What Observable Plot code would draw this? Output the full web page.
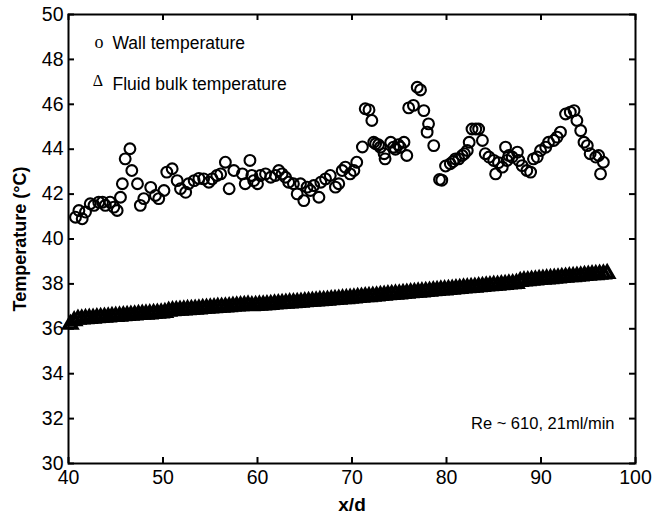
<!DOCTYPE html>
<html><head><meta charset="utf-8">
<script src="https://cdn.jsdelivr.net/npm/d3@7"></script>
<script src="https://cdn.jsdelivr.net/npm/@observablehq/plot@0.6"></script>
<style>body{margin:0;background:#fff}</style>
</head><body><div id="chart"></div>
<script>
const xTicks = [40, 50, 60, 70, 80, 90, 100];
const yTicks = [30, 32, 34, 36, 38, 40, 42, 44, 46, 48, 50];

const wallX = [40.74,41.1,41.45,41.8,42.3,42.7,43.2,43.6,43.9,44.4,44.8,45.15,45.5,45.7,46.0,46.5,46.7,47.3,47.6,47.97,48.7,49.2,49.55,50.1,50.4,50.97,51.5,51.85,52.4,52.7,53.3,53.8,54.3,54.85,55.2,55.7,56.1,56.6,57.0,57.5,58.4,58.7,59.2,59.4,59.6,60.0,60.3,60.85,61.4,61.9,62.25,62.6,62.96,63.3,63.8,64.2,64.55,64.9,65.25,65.6,65.95,66.5,66.7,67.2,67.7,68.25,68.6,68.96,69.3,69.8,70.2,70.5,71.1,71.4,71.8,72.1,72.3,72.5,72.8,73.0,73.4,73.5,74.1,74.4,74.6,74.9,75.1,75.5,75.8,76.0,76.5,76.9,77.25,77.6,77.95,78.1,78.65,79.26,79.5,79.9,80.4,80.7,80.95,81.3,81.66,81.9,82.2,82.4,82.7,83.1,83.4,83.8,84.1,84.5,85.0,85.2,85.5,85.9,86.25,86.4,86.6,86.95,87.5,87.65,88.0,88.5,88.9,89.2,89.6,89.95,90.5,90.8,91.35,91.7,92.06,92.6,93.1,93.5,93.8,94.2,94.55,94.9,95.2,95.8,96.1,96.3,96.6];
const wallT = [40.97,41.27,40.9,41.2,41.57,41.5,41.64,41.64,41.5,41.64,41.42,41.27,41.86,42.46,43.57,44.02,43.05,42.46,41.5,41.8,42.3,41.94,41.8,42.16,42.98,43.13,42.6,42.24,42.08,42.46,42.6,42.7,42.68,42.53,42.68,42.83,42.9,43.42,42.24,43.05,42.9,42.46,43.5,42.83,42.6,42.46,42.83,42.9,42.75,42.83,43.05,42.9,42.75,42.53,42.46,42.01,42.46,41.71,42.31,42.16,42.38,41.86,42.53,42.68,42.83,42.31,42.46,43.05,43.2,42.9,43.05,43.42,44.1,45.8,45.75,45.28,44.31,44.24,44.2,44.09,43.8,43.57,44.31,44.09,44.0,44.2,44.09,44.31,43.72,45.84,45.95,46.76,46.64,45.72,44.76,45.13,44.16,42.65,42.62,43.25,43.35,43.45,43.57,43.57,43.72,43.8,43.94,44.31,44.9,44.9,44.9,44.39,43.8,43.65,43.5,42.9,43.4,43.2,44.09,43.5,43.72,43.65,43.87,43.5,43.27,43.05,42.98,43.57,43.65,43.94,44.09,44.31,44.39,44.54,44.76,45.57,45.65,45.72,45.28,44.83,44.31,44.16,43.8,43.65,43.72,42.9,43.42];

const bulkX = [40.2,40.6,41.0,41.4,41.8,42.2,42.6,43.0,43.4,43.8,44.2,44.6,45.0,45.4,45.8,46.2,46.6,47.0,47.4,47.8,48.2,48.6,49.0,49.4,49.8,50.2,50.6,51.0,51.4,51.8,52.2,52.6,53.0,53.4,53.8,54.2,54.6,55.0,55.4,55.8,56.2,56.6,57.0,57.4,57.8,58.2,58.6,59.0,59.4,59.8,60.2,60.6,61.0,61.4,61.8,62.2,62.6,63.0,63.4,63.8,64.2,64.6,65.0,65.4,65.8,66.2,66.6,67.0,67.4,67.8,68.2,68.6,69.0,69.4,69.8,70.2,70.6,71.0,71.4,71.8,72.2,72.6,73.0,73.4,73.8,74.2,74.6,75.0,75.4,75.8,76.2,76.6,77.0,77.4,77.8,78.2,78.6,79.0,79.4,79.8,80.2,80.6,81.0,81.4,81.8,82.2,82.6,83.0,83.4,83.8,84.2,84.6,85.0,85.4,85.8,86.2,86.6,87.0,87.4,87.8,88.2,88.6,89.0,89.4,89.8,90.2,90.6,91.0,91.4,91.8,92.2,92.6,93.0,93.4,93.8,94.2,94.6,95.0,95.4,95.8,96.2,96.6,97.0];
const bulkT = [36.2,36.35,36.42,36.43,36.45,36.46,36.47,36.49,36.5,36.51,36.52,36.54,36.55,36.56,36.58,36.59,36.6,36.61,36.63,36.64,36.65,36.66,36.68,36.69,36.7,36.72,36.78,36.8,36.81,36.82,36.83,36.85,36.86,36.87,36.88,36.9,36.91,36.92,36.93,36.95,36.96,36.97,36.98,37.0,37.01,37.02,37.03,37.05,37.02,37.03,37.05,37.06,37.07,37.08,37.1,37.11,37.12,37.13,37.15,37.16,37.17,37.18,37.2,37.21,37.22,37.23,37.25,37.26,37.27,37.29,37.3,37.31,37.33,37.34,37.36,37.37,37.39,37.4,37.42,37.43,37.45,37.46,37.48,37.49,37.51,37.52,37.54,37.55,37.57,37.58,37.6,37.61,37.63,37.64,37.66,37.67,37.69,37.7,37.72,37.73,37.75,37.76,37.78,37.79,37.81,37.82,37.84,37.85,37.87,37.88,37.9,37.91,37.93,37.94,37.96,37.97,37.99,38.0,38.02,38.1,38.13,38.14,38.16,38.17,38.19,38.2,38.22,38.23,38.25,38.26,38.28,38.29,38.31,38.32,38.34,38.35,38.37,38.38,38.4,38.41,38.43,38.44,38.46];

const wall = wallX.map((x, i) => ({x, t: wallT[i]}));
const bulk = bulkX.map((x, i) => ({x, t: bulkT[i]}));
const font = "Liberation Sans, Arial, Helvetica, sans-serif";
const serif = "Liberation Serif, Times New Roman, serif";
const W = 663, H = 516, mL = 68, mR = 28, mT = 14, mB = 53;
const innerW = W - mL - mR, innerH = H - mT - mB, tick = 6;

const chart = Plot.plot({
  width: W, height: H,
  marginLeft: mL, marginRight: mR, marginTop: mT, marginBottom: mB,
  style: {fontFamily: font, fontSize: "20px", color: "black", background: "white", overflow: "visible"},
  x: {domain: [40, 100]},
  y: {domain: [30, 50]},
  marks: [
    Plot.dot(bulk, {x: "x", y: "t", symbol: "triangle", r: 4.8, stroke: "black", strokeWidth: 3.4, strokeLinejoin: "miter", fill: "none"}),
    Plot.dot(wall, {x: "x", y: "t", r: 5.4, stroke: "black", strokeWidth: 2.1, fill: "none"}),
    Plot.frame({stroke: "black", strokeWidth: 2}),
    // inward ticks on all four sides
    Plot.tickX(xTicks, {x: d => d, insetTop: innerH - tick, stroke: "black", strokeWidth: 2}),
    Plot.tickX(xTicks, {x: d => d, insetBottom: innerH - tick, stroke: "black", strokeWidth: 2}),
    Plot.tickY(yTicks, {y: d => d, insetRight: innerW - tick, stroke: "black", strokeWidth: 2}),
    Plot.tickY(yTicks, {y: d => d, insetLeft: innerW - tick, stroke: "black", strokeWidth: 2}),
    Plot.axisX(xTicks, {anchor: "bottom", tickSize: 0, tickPadding: 7, label: null, fontSize: 19.5}),
    Plot.axisY(yTicks, {anchor: "left", tickSize: 0, tickPadding: 5, label: null, fontSize: 19.5}),
    Plot.text(["x/d"], {frameAnchor: "bottom", dy: 41, lineAnchor: "middle", textAnchor: "middle", fontWeight: "bold", fontSize: 19}),
    Plot.text(["Temperature (°C)"], {frameAnchor: "left", dx: -48, rotate: -90, textAnchor: "middle", lineAnchor: "middle", fontWeight: "bold", fontSize: 18}),
    Plot.text(["o"], {frameAnchor: "top-left", dx: 30.5, dy: 28, textAnchor: "middle", lineAnchor: "middle", fontFamily: serif, fontSize: 18}),
    Plot.text(["Wall temperature"], {frameAnchor: "top-left", dx: 44, dy: 29, textAnchor: "start", lineAnchor: "middle", fontSize: 17.5}),
    Plot.text(["Δ"], {frameAnchor: "top-left", dx: 29.5, dy: 66, textAnchor: "middle", lineAnchor: "middle", fontFamily: serif, fontSize: 16}),
    Plot.text(["Fluid bulk temperature"], {frameAnchor: "top-left", dx: 44, dy: 69.5, textAnchor: "start", lineAnchor: "middle", fontSize: 17.5}),
    Plot.text(["Re ~ 610, 21ml/min"], {frameAnchor: "bottom-right", dx: -21, dy: -40, textAnchor: "end", lineAnchor: "middle", fontSize: 16.5})
  ]
});
document.getElementById("chart").append(chart);
</script>
</body></html>
